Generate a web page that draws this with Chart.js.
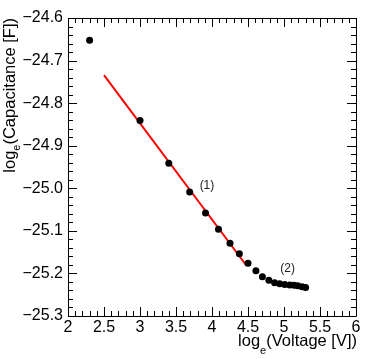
<!DOCTYPE html>
<html>
<head>
<meta charset="utf-8">
<script src="https://cdn.jsdelivr.net/npm/chart.js@4"></script>
<style>
  html, body { margin: 0; padding: 0; background: #fff; }
  #wrap { width: 374px; height: 359px; }
</style>
</head>
<body>
<div id="wrap"><canvas id="chartCanvas" width="374" height="359"></canvas></div>
<script>
// measured points: log_e(V) vs log_e(C)
const logV = [2.30, 3.00, 3.40, 3.69, 3.91, 4.09, 4.25, 4.38, 4.50, 4.61, 4.70, 4.79,
              4.87, 4.94, 5.01, 5.08, 5.14, 5.19, 5.25, 5.30];
const logC = [-24.652, -24.841, -24.941, -25.009, -25.058, -25.096, -25.129, -25.154,
              -25.176, -25.194, -25.208, -25.216, -25.222, -25.224, -25.226, -25.227,
              -25.228, -25.229, -25.231, -25.233];

// the two linear fits
const fit1X = [2.50, 4.48];
const fit1Y = [-24.734, -25.182];
const fit2X = [4.81, 5.30];
const fit2Y = [-25.221, -25.234];

// region labels
const noteText = ["(1)", "(2)"];
const noteX = [3.93, 5.05];
const noteY = [-24.995, -25.188];

const xMin = 2, xMax = 6, yMin = -25.3, yMax = -24.6;

const FONT = "'Liberation Sans', Arial, Helvetica, sans-serif";

function toXY(xs, ys) {
    return xs.map((x, i) => ({ x: x, y: ys[i] }));
}

// draws "log" + subscript e + rest, ending at x = 0 in current transform
function subTitle(ctx, rest, subDrop) {
    const big = "16.5px " + FONT, small = "11px " + FONT;
    ctx.font = big;
    const wLog = ctx.measureText("log").width;
    const wRest = ctx.measureText(rest).width;
    ctx.font = small;
    const wE = ctx.measureText("e").width;
    const s = -(wLog + wE + wRest);
    ctx.font = big; ctx.fillText("log", s, 0);
    ctx.font = small; ctx.fillText("e", s + wLog, subDrop);
    ctx.font = big; ctx.fillText(rest, s + wLog + wE, 0);
}

// frame, inward ticks on all sides, axis titles, labels
const rootStyle = {
    id: "rootStyle",
    afterDraw(chart) {
        const ctx = chart.ctx;
        const a = chart.chartArea;
        const xs = chart.scales.x, ys = chart.scales.y;
        ctx.save();
        ctx.strokeStyle = "#000";
        ctx.lineWidth = 1;
        ctx.beginPath();
        ctx.rect(Math.round(a.left) + 0.5, Math.round(a.top) + 0.5,
                 Math.round(a.right - a.left), Math.round(a.bottom - a.top));
        ctx.stroke();

        ctx.beginPath();
        for (let i = 20; i <= 60; i++) {
            const px = Math.round(xs.getPixelForValue(i / 10)) + 0.5;
            const len = (i % 5 === 0) ? 9 : 5;
            ctx.moveTo(px, a.bottom); ctx.lineTo(px, a.bottom - len);
            ctx.moveTo(px, a.top); ctx.lineTo(px, a.top + len);
        }
        for (let i = 0; i <= 35; i++) {
            const py = Math.round(ys.getPixelForValue(yMin + i * 0.02)) + 0.5;
            const len = (i % 5 === 0) ? 9 : 5;
            ctx.moveTo(a.left, py); ctx.lineTo(a.left + len, py);
            ctx.moveTo(a.right, py); ctx.lineTo(a.right - len, py);
        }
        ctx.stroke();

        // region labels
        ctx.fillStyle = "#222";
        ctx.font = "12px " + FONT;
        ctx.textAlign = "center";
        ctx.textBaseline = "middle";
        noteText.forEach((t, i) => {
            ctx.fillText(t, xs.getPixelForValue(noteX[i]), ys.getPixelForValue(noteY[i]));
        });

        ctx.fillStyle = "#000";
        ctx.textBaseline = "alphabetic";
        ctx.textAlign = "left";

        // x title, right aligned
        ctx.save();
        ctx.translate(a.right + 1, 346);
        subTitle(ctx, "(Voltage [V])", 8);
        ctx.restore();

        // y title, rotated, right aligned at top
        ctx.save();
        ctx.translate(15, a.top);
        ctx.rotate(-Math.PI / 2);
        subTitle(ctx, "(Capacitance [F])", 5);
        ctx.restore();

        ctx.restore();
    }
};

const ctx = document.getElementById("chartCanvas").getContext("2d");
new Chart(ctx, {
    type: "scatter",
    data: {
        datasets: [
            {
                data: toXY(logV, logC),
                backgroundColor: "#000",
                borderColor: "#000",
                pointRadius: 3.5,
                pointBorderWidth: 0,
                showLine: false,
                order: 1
            },
            {
                type: "line",
                data: toXY(fit1X, fit1Y),
                borderColor: "#ff0000",
                borderWidth: 2,
                pointRadius: 0,
                fill: false,
                order: 2
            },
            {
                type: "line",
                data: toXY(fit2X, fit2Y),
                borderColor: "#ff0000",
                borderWidth: 2,
                pointRadius: 0,
                fill: false,
                order: 2
            }
        ]
    },
    options: {
        responsive: false,
        animation: false,
        devicePixelRatio: 1,
        layout: { padding: { top: 18, right: 18, left: 0, bottom: 0 } },
        plugins: { legend: { display: false }, tooltip: { enabled: false } },
        scales: {
            x: {
                type: "linear",
                min: xMin, max: xMax,
                grid: { display: false, drawTicks: false },
                border: { display: false },
                ticks: {
                    stepSize: 0.5,
                    padding: 2,
                    color: "#000",
                    font: { family: FONT, size: 16 },
                    maxRotation: 0,
                    autoSkip: false,
                    callback: (v) => String(Number(v.toFixed(1)))
                },
                afterFit: (s) => { s.height = 43; }
            },
            y: {
                type: "linear",
                min: yMin, max: yMax,
                grid: { display: false, drawTicks: false },
                border: { display: false },
                ticks: {
                    stepSize: 0.1,
                    padding: 5,
                    color: "#000",
                    font: { family: FONT, size: 16 },
                    autoSkip: false,
                    callback: (v) => v.toFixed(1).replace("-", "\u2212")
                },
                afterFit: (s) => { s.width = 68; }
            }
        }
    },
    plugins: [rootStyle]
});
</script>
</body>
</html>
